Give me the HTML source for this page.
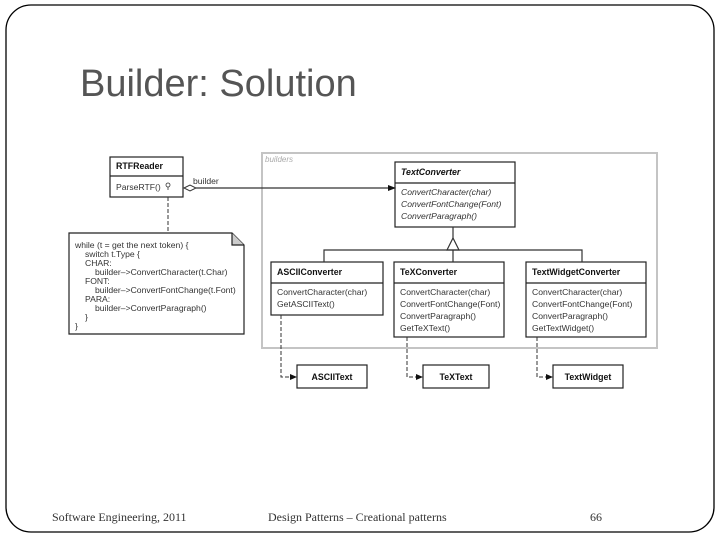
<!DOCTYPE html>
<html><head><meta charset="utf-8"><style>
html,body{margin:0;padding:0;background:#fff;}
svg{display:block;}
.s{font-family:"Liberation Sans",sans-serif;font-size:8.6px;fill:#333;}
.b{font-family:"Liberation Sans",sans-serif;font-size:8.8px;font-weight:bold;fill:#111;}
.i{font-family:"Liberation Sans",sans-serif;font-size:8.6px;font-style:italic;fill:#333;}
.f{font-family:"Liberation Serif",serif;font-size:12px;fill:#333;}
</style></head><body>
<svg width="720" height="540" viewBox="0 0 720 540" xmlns="http://www.w3.org/2000/svg">
<rect x="6" y="5" width="708" height="527" rx="25" fill="#fff" stroke="#000" stroke-width="1.3"/>
<text x="80" y="96" font-family="Liberation Sans,sans-serif" font-size="38" fill="#555">Builder: Solution</text>

<rect x="262" y="153" width="395" height="195" fill="none" stroke="#c4c4c4" stroke-width="2"/>
<text x="265" y="162" class="i" style="fill:#aaa;font-size:8px">builders</text>

<g stroke="#222" stroke-width="1.2" fill="#fff">
<rect x="110" y="157" width="73" height="40"/>
<line x1="110" y1="176" x2="183" y2="176"/>
<rect x="395" y="162" width="120" height="65"/>
<line x1="395" y1="183" x2="515" y2="183"/>
<rect x="271" y="262" width="112" height="53"/>
<line x1="271" y1="283" x2="383" y2="283"/>
<rect x="394" y="262" width="110" height="75"/>
<line x1="394" y1="283" x2="504" y2="283"/>
<rect x="526" y="262" width="120" height="75"/>
<line x1="526" y1="283" x2="646" y2="283"/>
<rect x="297" y="365" width="70" height="23"/>
<rect x="423" y="365" width="66" height="23"/>
<rect x="553" y="365" width="70" height="23"/>
<path d="M69 233 H232 L244 245 V334 H69 Z"/>
<path d="M232 233 V245 H244" fill="#ccc"/>
</g>

<line x1="196" y1="188" x2="390" y2="188" stroke="#333" stroke-width="1.2"/>
<path d="M184 188 L190 185 L196 188 L190 191 Z" fill="#fff" stroke="#333" stroke-width="1"/>
<path d="M388 185 L396 188 L388 191 Z" fill="#111"/>
<text x="193" y="184" class="s">builder</text>
<circle cx="168" cy="185" r="2" fill="#fff" stroke="#333" stroke-width="0.8"/>
<line x1="168" y1="187" x2="168" y2="190" stroke="#333" stroke-width="0.8"/>
<line x1="168" y1="197" x2="168" y2="233" stroke="#333" stroke-width="1" stroke-dasharray="4,2"/>

<g stroke="#333" stroke-width="1.2" fill="none">
<line x1="453" y1="227" x2="453" y2="238"/>
<path d="M447 250 L453 238 L459 250 Z" fill="#fff"/>
<path d="M324 262 V250 H582 V262"/>
<line x1="453" y1="250" x2="453" y2="262"/>
</g>

<g stroke="#333" stroke-width="1" fill="none" stroke-dasharray="4,2">
<path d="M281 315 V377 H292"/>
<path d="M407 337 V377 H418"/>
<path d="M537 337 V377 H548"/>
</g>
<path d="M290 374 L297 377 L290 380 Z" fill="#111"/>
<path d="M416 374 L423 377 L416 380 Z" fill="#111"/>
<path d="M546 374 L553 377 L546 380 Z" fill="#111"/>

<text x="116" y="169" class="b">RTFReader</text>
<text x="116" y="190" class="s">ParseRTF()</text>

<text x="401" y="175" class="b" font-style="italic">TextConverter</text>
<text x="401" y="195" class="i">ConvertCharacter(char)</text>
<text x="401" y="207" class="i">ConvertFontChange(Font)</text>
<text x="401" y="219" class="i">ConvertParagraph()</text>

<text x="277" y="275" class="b">ASCIIConverter</text>
<text x="277" y="295" class="s">ConvertCharacter(char)</text>
<text x="277" y="307" class="s">GetASCIIText()</text>

<text x="400" y="275" class="b">TeXConverter</text>
<text x="400" y="295" class="s">ConvertCharacter(char)</text>
<text x="400" y="307" class="s">ConvertFontChange(Font)</text>
<text x="400" y="319" class="s">ConvertParagraph()</text>
<text x="400" y="331" class="s">GetTeXText()</text>

<text x="532" y="275" class="b">TextWidgetConverter</text>
<text x="532" y="295" class="s">ConvertCharacter(char)</text>
<text x="532" y="307" class="s">ConvertFontChange(Font)</text>
<text x="532" y="319" class="s">ConvertParagraph()</text>
<text x="532" y="331" class="s">GetTextWidget()</text>

<text x="332" y="380" class="b" text-anchor="middle">ASCIIText</text>
<text x="456" y="380" class="b" text-anchor="middle">TeXText</text>
<text x="588" y="380" class="b" text-anchor="middle">TextWidget</text>

<g class="s">
<text x="75" y="248">while (t = get the next token) {</text>
<text x="85" y="257">switch t.Type {</text>
<text x="85" y="266">CHAR:</text>
<text x="95" y="275">builder–&gt;ConvertCharacter(t.Char)</text>
<text x="85" y="284">FONT:</text>
<text x="95" y="293">builder–&gt;ConvertFontChange(t.Font)</text>
<text x="85" y="302">PARA:</text>
<text x="95" y="311">builder–&gt;ConvertParagraph()</text>
<text x="85" y="320">}</text>
<text x="75" y="329">}</text>
</g>

<text x="52" y="521" class="f">Software Engineering, 2011</text>
<text x="268" y="521" class="f">Design Patterns – Creational patterns</text>
<text x="590" y="521" class="f">66</text>
</svg>
</body></html>
